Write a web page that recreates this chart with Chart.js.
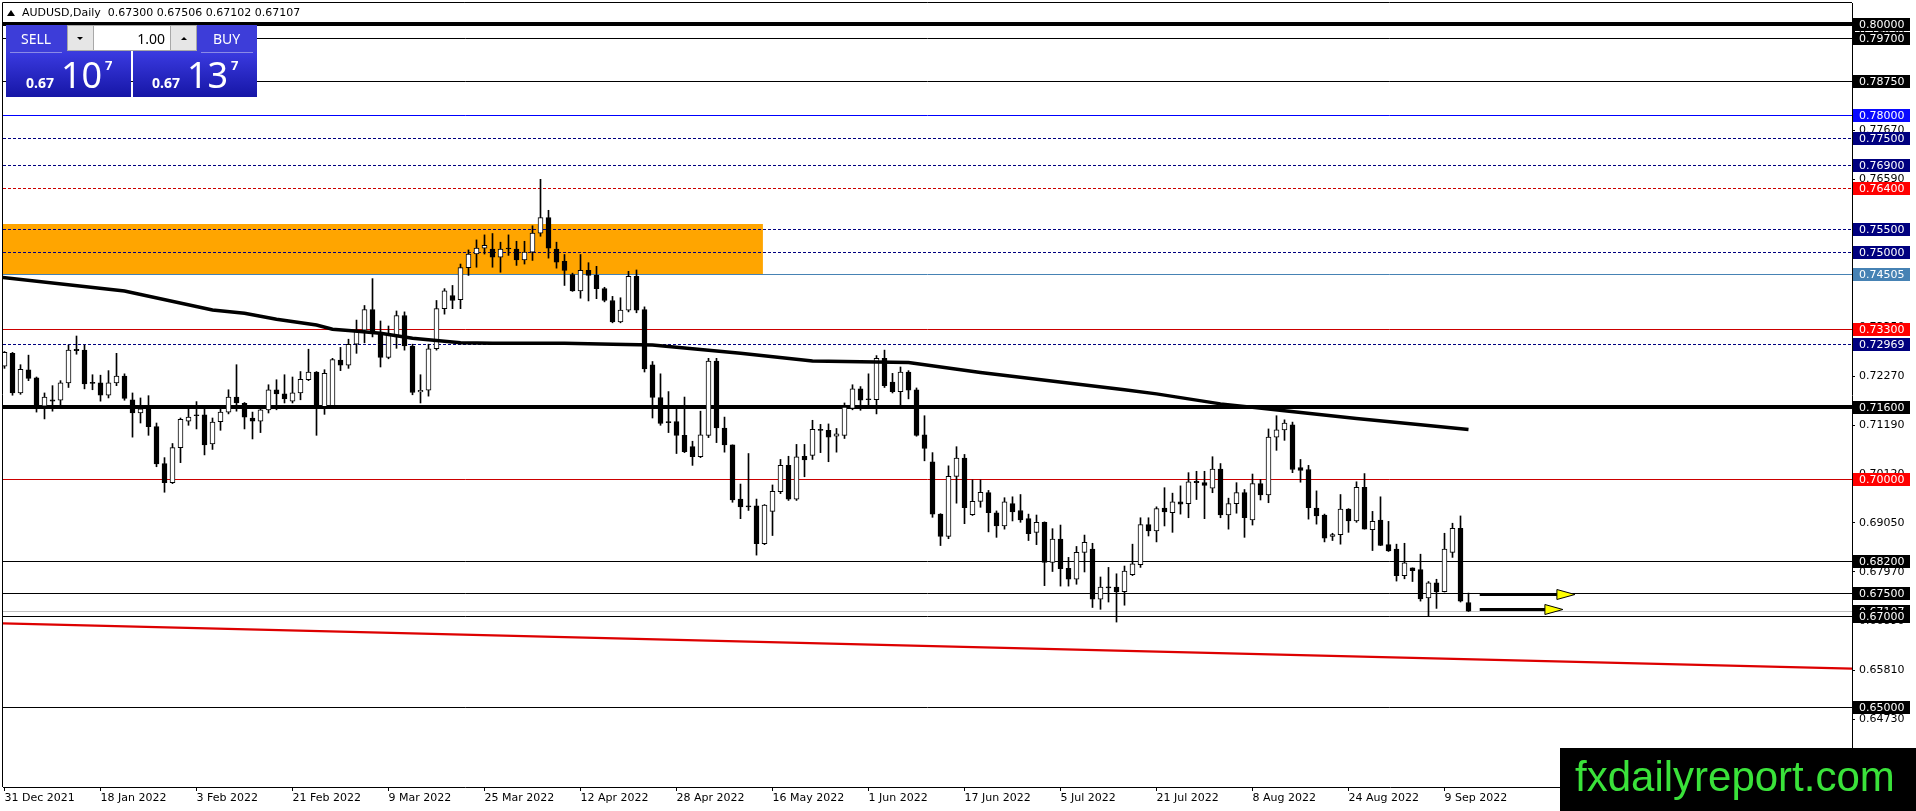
<!DOCTYPE html>
<html>
<head>
<meta charset="utf-8">
<style>
  html, body { margin: 0; padding: 0; background: #ffffff; }
  canvas { display: block; }
</style>
<script src="https://cdn.jsdelivr.net/npm/chart.js@4.4.1/dist/chart.umd.min.js"></script>
</head>
<body>
<canvas id="c" width="1916" height="811"></canvas>
<script>
// ---------------- DATA ----------------
const symbol = 'AUDUSD';
const timeframe = 'Daily';

// daily candles, bar 0 = 31 Dec 2021 ... bar 183 = 14 Sep 2022
const opens = [
0.7249,0.7277,0.7190,0.7241,0.7223,0.7161,0.7175,0.7174,0.7212,0.7286,
0.7284,0.7212,0.7212,0.7185,0.7212,0.7227,0.7175,0.7146,0.7154,0.7116,
0.7035,0.6993,0.7070,0.7128,0.7141,0.7142,0.7078,0.7127,0.7148,0.7181,
0.7167,0.7135,0.7128,0.7153,0.7197,0.7188,0.7172,0.7190,0.7219,0.7236,
0.7160,0.7162,0.7262,0.7251,0.7297,0.7328,0.7373,0.7321,0.7268,0.7313,
0.7360,0.7293,0.7192,0.7196,0.7287,0.7375,0.7404,0.7395,0.7465,0.7495,
0.7508,0.7506,0.7488,0.7508,0.7506,0.7482,0.7499,0.7541,0.7575,0.7506,
0.7479,0.7450,0.7414,0.7459,0.7449,0.7419,0.7393,0.7346,0.7372,0.7446,
0.7373,0.7252,0.7180,0.7127,0.7127,0.7097,0.7072,0.7050,0.7097,0.7260,
0.7113,0.7076,0.6957,0.6942,0.6942,0.6859,0.6930,0.6973,0.7031,0.6957,
0.7051,0.7053,0.7109,0.7108,0.7095,0.7097,0.7156,0.7199,0.7177,0.7175,
0.7266,0.7214,0.7193,0.7236,0.7197,0.7098,0.7039,0.6924,0.6875,0.7007,
0.7047,0.6923,0.6952,0.6971,0.6927,0.6898,0.6947,0.6932,0.6914,0.6884,
0.6906,0.6818,0.6869,0.6805,0.6781,0.6840,0.6847,0.6737,0.6763,0.6764,
0.6754,0.6791,0.6813,0.6901,0.6887,0.6937,0.6927,0.6951,0.6947,0.6996,
0.6993,0.6981,0.7023,0.6922,0.6947,0.6971,0.6911,0.6991,0.6966,0.7093,
0.7109,0.7120,0.7026,0.7022,0.6937,0.6922,0.6875,0.6879,0.6935,0.6909,
0.6983,0.6890,0.6911,0.6857,0.6847,0.6789,0.6806,0.6802,0.6740,0.6773,
0.6754,0.6840,0.6893,0.67300];
const highs = [
0.7281,0.7279,0.7252,0.7273,0.7225,0.7190,0.7206,0.7217,0.7295,0.7315,
0.7295,0.7230,0.7229,0.7239,0.7277,0.7232,0.7190,0.7179,0.7184,0.7124,
0.7048,0.7079,0.7135,0.7155,0.7171,0.7155,0.7135,0.7156,0.7197,0.7252,
0.7169,0.7148,0.7157,0.7208,0.7219,0.7230,0.7225,0.7237,0.7286,0.7237,
0.7241,0.7266,0.7290,0.7308,0.7350,0.7382,0.7441,0.7348,0.7337,0.7370,
0.7368,0.7297,0.7230,0.7297,0.7393,0.7419,0.7426,0.7473,0.7504,0.7526,
0.7537,0.7540,0.7521,0.7537,0.7523,0.7523,0.7557,0.7659,0.7591,0.7521,
0.7494,0.7453,0.7494,0.7476,0.7468,0.7422,0.7402,0.7399,0.7457,0.7460,
0.7379,0.7259,0.7232,0.7193,0.7157,0.7181,0.7084,0.7150,0.7266,0.7266,
0.7137,0.7076,0.6990,0.7057,0.6957,0.6945,0.6988,0.7044,0.7051,0.7077,
0.7077,0.7130,0.7121,0.7122,0.7112,0.7168,0.7208,0.7204,0.7232,0.7272,
0.7284,0.7233,0.7247,0.7239,0.7201,0.7140,0.7059,0.6925,0.7030,0.7072,
0.7055,0.6999,0.6999,0.6976,0.6931,0.6960,0.6962,0.6967,0.6924,0.6922,
0.6907,0.6892,0.6900,0.6829,0.6853,0.6878,0.6860,0.6786,0.6807,0.6793,
0.6810,0.6858,0.6916,0.6916,0.6940,0.6982,0.6970,0.6986,0.7015,0.7018,
0.7018,0.7050,0.7035,0.6959,0.6993,0.6978,0.7012,0.7000,0.7111,0.7140,
0.7131,0.7126,0.7044,0.7031,0.6975,0.6924,0.6882,0.6967,0.6936,0.6995,
0.7013,0.6930,0.6962,0.6908,0.6858,0.6860,0.6806,0.6836,0.6776,0.6781,
0.6882,0.6904,0.6920,0.67506];
const lows = [
0.7244,0.7185,0.7187,0.7217,0.7148,0.7133,0.7150,0.7164,0.7202,0.7275,
0.7199,0.7197,0.7172,0.7179,0.7206,0.7174,0.7093,0.7124,0.7097,0.7028,
0.6972,0.6991,0.7037,0.7119,0.7111,0.7054,0.7066,0.7108,0.7144,0.7150,
0.7111,0.7089,0.7103,0.7146,0.7153,0.7168,0.7168,0.7175,0.7217,0.7097,
0.7143,0.7160,0.7239,0.7244,0.7277,0.7300,0.7313,0.7247,0.7265,0.7288,
0.7284,0.7186,0.7168,0.7183,0.7284,0.7363,0.7375,0.7375,0.7448,0.7466,
0.7495,0.7466,0.7455,0.7492,0.7470,0.7473,0.7481,0.7534,0.7486,0.7464,
0.7426,0.7413,0.7398,0.7392,0.7397,0.7390,0.7344,0.7344,0.7368,0.7366,
0.7236,0.7135,0.7119,0.7103,0.7057,0.7059,0.7031,0.7048,0.7092,0.7081,
0.7060,0.6950,0.6914,0.6932,0.6834,0.6857,0.6877,0.6969,0.6954,0.6954,
0.7006,0.7044,0.7059,0.7039,0.7060,0.7090,0.7153,0.7152,0.7162,0.7144,
0.7202,0.7190,0.7164,0.7177,0.7095,0.7041,0.6917,0.6855,0.6870,0.6948,
0.6903,0.6921,0.6939,0.6885,0.6873,0.6891,0.6909,0.6906,0.6866,0.6857,
0.6767,0.6798,0.6766,0.6766,0.6770,0.6797,0.6719,0.6715,0.6731,0.6687,
0.6724,0.6789,0.6807,0.6876,0.6863,0.6898,0.6884,0.6924,0.6916,0.6956,
0.6914,0.6971,0.6916,0.6891,0.6926,0.6873,0.6900,0.6955,0.6949,0.7064,
0.7086,0.7015,0.6994,0.6913,0.6902,0.6863,0.6866,0.6858,0.6884,0.6906,
0.6891,0.6844,0.6855,0.6842,0.6777,0.6782,0.6776,0.6733,0.6701,0.6717,
0.6753,0.6829,0.6731,0.67102];
const closes = [
0.7279,0.7190,0.7242,0.7222,0.7162,0.7181,0.7172,0.7212,0.7284,0.7283,
0.7210,0.7211,0.7185,0.7212,0.7227,0.7178,0.7146,0.7155,0.7116,0.7034,
0.6993,0.7070,0.7132,0.7137,0.7140,0.7076,0.7126,0.7148,0.7181,0.7168,
0.7137,0.7128,0.7153,0.7197,0.7188,0.7177,0.7190,0.7220,0.7236,0.7162,
0.7233,0.7263,0.7251,0.7297,0.7328,0.7373,0.7321,0.7268,0.7321,0.7360,
0.7293,0.7191,0.7196,0.7287,0.7375,0.7414,0.7393,0.7465,0.7495,0.7508,
0.7514,0.7488,0.7506,0.7506,0.7482,0.7499,0.7541,0.7575,0.7508,0.7477,
0.7459,0.7414,0.7459,0.7448,0.7419,0.7393,0.7346,0.7372,0.7446,0.7372,
0.7243,0.7180,0.7123,0.7125,0.7097,0.7061,0.7050,0.7098,0.7260,0.7113,
0.7076,0.6955,0.6940,0.6940,0.6859,0.6944,0.6974,0.7031,0.6957,0.7050,
0.7043,0.7110,0.7108,0.7093,0.7100,0.7159,0.7199,0.7174,0.7175,0.7266,
0.7206,0.7193,0.7236,0.7196,0.7097,0.7068,0.6924,0.6875,0.7007,0.7047,
0.6938,0.6952,0.6972,0.6927,0.6898,0.6951,0.6929,0.6911,0.6881,0.6906,
0.6818,0.6869,0.6804,0.6781,0.6840,0.6862,0.6737,0.6764,0.6762,0.6753,
0.6799,0.6815,0.6901,0.6887,0.6936,0.6929,0.6951,0.6946,0.6995,0.6993,
0.6987,0.7023,0.6922,0.6947,0.6971,0.6916,0.6991,0.6966,0.7093,0.7109,
0.7124,0.7022,0.7020,0.6938,0.6920,0.6871,0.6879,0.6935,0.6909,0.6983,
0.6891,0.6908,0.6855,0.6843,0.6789,0.6817,0.6800,0.6738,0.6773,0.6753,
0.6847,0.6893,0.6733,0.67107];
const askPrice = 0.67137;

// moving average readings (bar index, value)
const maBars   = [-1, 15, 26, 30, 34, 39, 41, 43, 47, 51, 54, 57, 61, 70, 76, 81, 86, 92, 101, 113, 122, 140, 144, 152, 160, 169, 177, 183];
const maValues = [0.7445,0.7414,0.7372,0.7365,0.7352,0.7339,0.7330,0.7327,0.7321,0.7310,0.7305,0.7300,0.7299,0.7299,0.7297,0.7295,0.7287,0.7277,0.7260,0.7257,0.7235,0.7197,0.7188,0.7166,0.7151,0.7134,0.7120,0.7110];

// red trend line (bar index, value)
const trendBars   = [-0.19, 230.94];
const trendValues = [0.66843, 0.65846];

// horizontal levels
const levelPrices = [0.80000,0.79700,0.78750,0.78000,0.77500,0.76900,0.76400,0.75500,0.75000,0.74505,0.73300,0.72969,0.71600,0.70000,0.68200,0.67500,0.67000,0.65000];
const levelKinds  = ['thick','solid','solid','blue','dash','dash','reddash','dash','dash','steel','red','dash','thick','red','solid','solid','solid','solid'];

// supply zone
const zoneTop = 0.7561, zoneBottom = 0.7450, zoneEndBar = 94.8;

// arrows
const arrowStartBars = [184.4, 184.4];
const arrowEndBars   = [196.3, 194.8];
const arrowPrices    = [0.6749, 0.6716];

// axis ticks
const yTicks = [0.7983,0.7875,0.7767,0.7659,0.7551,0.7443,0.7335,0.7227,0.7119,0.7012,0.6905,0.6797,0.6689,0.6581,0.6473];
const xTickBars = [0,12,24,36,48,60,72,84,96,108,120,132,144,156,168,180];
const xTickLabels = ['31 Dec 2021','18 Jan 2022','3 Feb 2022','21 Feb 2022','9 Mar 2022','25 Mar 2022','12 Apr 2022','28 Apr 2022','16 May 2022','1 Jun 2022','17 Jun 2022','5 Jul 2022','21 Jul 2022','8 Aug 2022','24 Aug 2022','9 Sep 2022'];

// ---------------- STYLES ----------------
const kindStyle = {
  thick:   {line:'#000000', width:4, dash:[],    bg:'#000000', fg:'#ffffff'},
  solid:   {line:'#000000', width:1, dash:[],    bg:'#000000', fg:'#ffffff'},
  blue:    {line:'#0000ff', width:1, dash:[],    bg:'#0a0aff', fg:'#ffffff'},
  dash:    {line:'#000080', width:1, dash:[3,2], bg:'#00007f', fg:'#ffffff'},
  reddash: {line:'#cc0000', width:1, dash:[3,2], bg:'#ff0000', fg:'#ffffff'},
  steel:   {line:'#4682b4', width:1, dash:[],    bg:'#4682b4', fg:'#ffffff'},
  red:     {line:'#cc0000', width:1, dash:[],    bg:'#ff0000', fg:'#ffffff'},
  bid:     {line:'#c0c0c0', width:1, dash:[],    bg:'#000000', fg:'#ffffff'}
};
const AXFONT = '11px "DejaVu Sans"';

// ---------------- BUILD ----------------
const N = closes.length;
const idx = closes.map((_, i) => i);
const bodyData = idx.map(i => ({x: i, y: [opens[i], closes[i]]}));
const wickData = idx.map(i => ({x: i, y: [lows[i], highs[i]]}));
const bodyColors = idx.map(i => closes[i] >= opens[i] ? '#ffffff' : '#000000');
const maData = maBars.map((b, i) => ({x: b, y: maValues[i]}));
const trendData = trendBars.map((b, i) => ({x: b, y: trendValues[i]}));
const bidPrice = closes[N - 1];

function hline(ctx, a, py, st) {
  const w = st.width;
  const yy = (w % 2) ? Math.round(py) + 0.5 : Math.round(py);
  ctx.strokeStyle = st.line; ctx.lineWidth = w; ctx.setLineDash(st.dash);
  ctx.beginPath(); ctx.moveTo(a.left, yy); ctx.lineTo(a.right, yy); ctx.stroke();
  ctx.setLineDash([]);
}

function priceBox(ctx, x0, py, txt, st) {
  const yy = Math.round(py);
  ctx.fillStyle = st.bg;
  ctx.fillRect(x0 + 1, yy - 6, 57, 13);
  ctx.fillStyle = st.fg;
  ctx.font = AXFONT;
  ctx.textAlign = 'left'; ctx.textBaseline = 'middle';
  ctx.fillText(txt, x0 + 7, yy + 1);
}

function splitPrice(p) {
  const s = p.toFixed(5);
  return [s.slice(0, 4), s.slice(4, 6), s.slice(6)];
}

function drawPanel(ctx) {
  const grad = (y0, y1) => { const g = ctx.createLinearGradient(0, y0, 0, y1); g.addColorStop(0, '#3a3ae0'); g.addColorStop(1, '#1616a6'); return g; };
  // lower price boxes
  ctx.fillStyle = grad(52, 97); ctx.fillRect(6, 52, 125, 45);
  ctx.fillStyle = grad(52, 97); ctx.fillRect(133, 52, 124, 45);
  // buttons
  ctx.fillStyle = '#3d3dd9'; ctx.fillRect(6, 25, 60, 27); ctx.fillRect(198, 25, 59, 27);
  ctx.fillStyle = '#3d3dd9'; ctx.fillRect(66, 25, 65, 27); ctx.fillRect(133, 25, 65, 27);
  ctx.strokeStyle = '#8a8ae6'; ctx.lineWidth = 1;
  ctx.beginPath(); ctx.moveTo(10, 52.5); ctx.lineTo(62, 52.5); ctx.moveTo(201, 52.5); ctx.lineTo(253, 52.5); ctx.stroke();
  // spinner
  ctx.fillStyle = '#e6e6e6'; ctx.fillRect(67, 25, 130, 26);
  ctx.fillStyle = '#ffffff'; ctx.fillRect(93, 26, 78, 24);
  ctx.strokeStyle = '#a8a8a8'; ctx.strokeRect(67.5, 25.5, 129, 25);
  ctx.beginPath(); ctx.moveTo(93.5, 25); ctx.lineTo(93.5, 51); ctx.moveTo(170.5, 25); ctx.lineTo(170.5, 51); ctx.stroke();
  ctx.fillStyle = '#000000';
  ctx.beginPath(); ctx.moveTo(77, 37); ctx.lineTo(83, 37); ctx.lineTo(80, 40); ctx.closePath(); ctx.fill();
  ctx.beginPath(); ctx.moveTo(181, 40); ctx.lineTo(187, 40); ctx.lineTo(184, 37); ctx.closePath(); ctx.fill();
  ctx.font = '14px "Noto Sans"'; ctx.textBaseline = 'alphabetic';
  ctx.textAlign = 'right'; ctx.fillText('1.00', 165, 44);
  ctx.fillStyle = '#ffffff'; ctx.textAlign = 'left';
  ctx.fillText('SELL', 21, 44); ctx.fillText('BUY', 213, 44);
  const sp = splitPrice(bidPrice), bp = splitPrice(askPrice);
  ctx.font = 'bold 14px "Noto Sans"'; ctx.fillText(sp[0], 26, 88); ctx.fillText(bp[0], 152, 88);
  ctx.font = '36px "Noto Sans"'; ctx.fillText(sp[1], 61, 88); ctx.fillText(bp[1], 187, 88);
  ctx.font = 'bold 13px "Noto Sans"'; ctx.fillText(sp[2], 105, 70); ctx.fillText(bp[2], 231, 70);
}

const overlay = {
  id: 'overlay',
  beforeDatasetsDraw(chart) {
    const {ctx, chartArea: a, scales: {x, y}} = chart;
    ctx.save();
    ctx.beginPath(); ctx.rect(a.left, a.top, a.right - a.left, a.bottom - a.top); ctx.clip();
    const zx1 = x.getPixelForValue(zoneEndBar);
    const zy0 = Math.round(y.getPixelForValue(zoneTop)), zy1 = Math.round(y.getPixelForValue(zoneBottom));
    ctx.fillStyle = '#ffa500';
    ctx.fillRect(a.left, zy0, zx1 - a.left, zy1 - zy0);
    hline(ctx, a, y.getPixelForValue(bidPrice), kindStyle.bid);
    levelPrices.forEach((p, i) => hline(ctx, a, y.getPixelForValue(p), kindStyle[levelKinds[i]]));
    ctx.restore();
  },
  afterDraw(chart) {
    const {ctx, chartArea: a, scales: {x, y}} = chart;
    ctx.save();
    // frame
    ctx.strokeStyle = '#000'; ctx.lineWidth = 1;
    ctx.beginPath(); ctx.moveTo(a.left - 0.5, a.bottom); ctx.lineTo(a.left - 0.5, a.top - 0.5); ctx.lineTo(a.right, a.top - 0.5); ctx.stroke();
    // arrows
    arrowPrices.forEach((p, i) => {
      const x0 = x.getPixelForValue(arrowStartBars[i]);
      const x1 = x.getPixelForValue(arrowEndBars[i]);
      const py = Math.round(y.getPixelForValue(p)) + 0.5;
      ctx.strokeStyle = '#000'; ctx.lineWidth = 3;
      ctx.beginPath(); ctx.moveTo(x0, py); ctx.lineTo(x1 - 12, py); ctx.stroke();
      ctx.beginPath(); ctx.moveTo(x1 - 18, py - 5); ctx.lineTo(x1, py); ctx.lineTo(x1 - 18, py + 5); ctx.closePath();
      ctx.fillStyle = '#ffff00'; ctx.fill();
      ctx.lineWidth = 1; ctx.strokeStyle = '#000'; ctx.stroke();
    });
    // price labels on right axis
    const order = levelPrices.map((p, i) => i);
    const bidIdx = levelPrices.indexOf(0.67000);
    order.forEach(i => {
      if (i === bidIdx) priceBox(ctx, a.right, y.getPixelForValue(bidPrice), bidPrice.toFixed(5), kindStyle.bid);
      priceBox(ctx, a.right, y.getPixelForValue(levelPrices[i]), levelPrices[i].toFixed(5), kindStyle[levelKinds[i]]);
    });
    // header
    ctx.fillStyle = '#000';
    ctx.beginPath(); ctx.moveTo(7, 16); ctx.lineTo(15, 16); ctx.lineTo(11, 10); ctx.closePath(); ctx.fill();
    ctx.font = AXFONT; ctx.textAlign = 'left'; ctx.textBaseline = 'middle';
    const L = N - 1;
    ctx.fillText(symbol + ',' + timeframe + '  ' + opens[L].toFixed(5) + ' ' + highs[L].toFixed(5) + ' ' + lows[L].toFixed(5) + ' ' + closes[L].toFixed(5), 22, 13);
    drawPanel(ctx);
    // logo
    ctx.fillStyle = '#000000'; ctx.fillRect(1560, 748, 356, 63);
    ctx.fillStyle = '#3ae23a'; ctx.font = '42px "Liberation Sans"'; ctx.textAlign = 'left'; ctx.textBaseline = 'alphabetic';
    ctx.fillText('fxdailyreport.com', 1575, 791);
    ctx.restore();
  }
};

new Chart(document.getElementById('c'), {
  type: 'bar',
  data: {
    datasets: [
      { type: 'line', data: trendData, borderColor: '#dd0000', borderWidth: 2.2, pointRadius: 0, tension: 0, order: 0 },
      { type: 'line', data: maData, borderColor: '#000000', borderWidth: 3.5, pointRadius: 0, tension: 0, order: 1 },
      { type: 'bar', data: bodyData, backgroundColor: bodyColors, borderColor: '#000000', borderWidth: 1, borderSkipped: false, barThickness: 5, minBarLength: 1, grouped: false, order: 2 },
      { type: 'bar', data: wickData, backgroundColor: '#000000', borderWidth: 0, barThickness: 1, grouped: false, order: 3 }
    ]
  },
  options: {
    responsive: false,
    animation: false,
    devicePixelRatio: 1,
    layout: { padding: { left: 3, top: 3, right: 0, bottom: 0 } },
    plugins: { legend: { display: false }, tooltip: { enabled: false } },
    scales: {
      x: {
        type: 'linear', min: -0.1875, max: 230.9375, offset: false,
        grid: { drawOnChartArea: false, offset: false, tickLength: 4, color: '#000000' },
        border: { display: true, color: '#000000' },
        ticks: { font: { family: 'DejaVu Sans', size: 11 }, color: '#000000', align: 'start', padding: 1, maxRotation: 0, autoSkip: false,
                 callback: (v, i) => xTickLabels[i] },
        afterBuildTicks: s => { s.ticks = xTickBars.map(v => ({value: v})); },
        afterFit: s => { s.height = 24; s.paddingLeft = 0; s.paddingRight = 0; }
      },
      y: {
        type: 'linear', position: 'right', min: 0.63249, max: 0.80461,
        grid: { drawOnChartArea: false, tickLength: 3, color: '#000000' },
        border: { display: true, color: '#000000' },
        ticks: { font: { family: 'DejaVu Sans', size: 11 }, color: '#000000', padding: 4, autoSkip: false,
                 callback: v => v.toFixed(5) },
        afterBuildTicks: s => { s.ticks = yTicks.map(v => ({value: v})); },
        afterFit: s => { s.width = 64; s.paddingTop = 0; s.paddingBottom = 0; }
      }
    }
  },
  plugins: [overlay]
});
</script>
</body>
</html>
